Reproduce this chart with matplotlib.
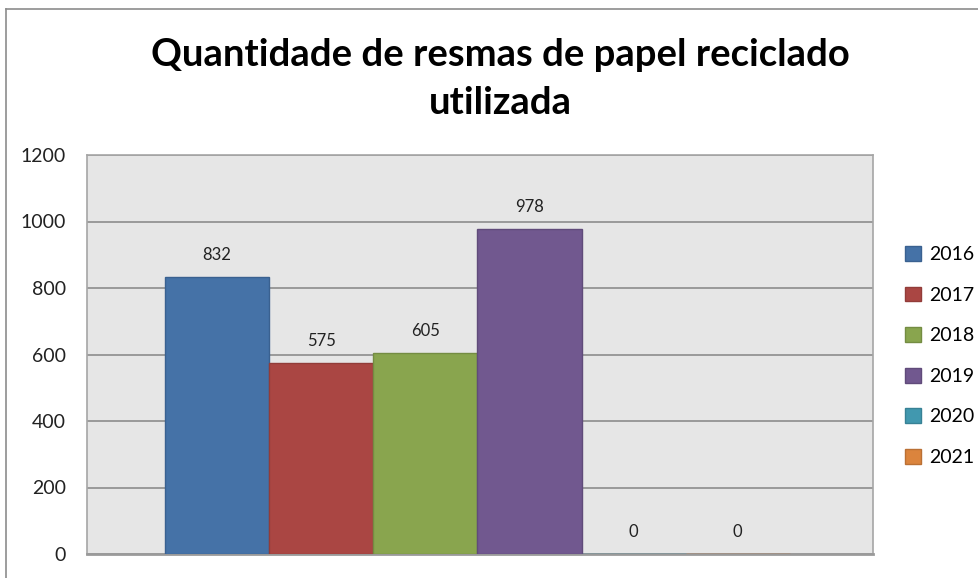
import matplotlib.pyplot as plt
from matplotlib.patches import Patch
from matplotlib.lines import Line2D

# dados
anos = ["2016", "2017", "2018", "2019", "2020", "2021"]
resmas = [832, 575, 605, 978, 0, 0]
cores = ["#4572A7", "#AA4643", "#89A54E", "#71588F", "#4198AF", "#DB843D"]
bordas = ["#3A6190", "#923C39", "#748C42", "#604B7A", "#378195", "#BA7034"]
yticks = [0, 200, 400, 600, 800, 1000, 1200]

plt.rcParams['font.family'] = ['Lato', 'DejaVu Sans']

fig = plt.figure(figsize=(9.79, 5.78), dpi=100)
ax = fig.add_axes([87/979, 24/578, 786/979, 399/578])

xs = list(range(len(anos)))
for i, (v, c, b) in enumerate(zip(resmas, cores, bordas)):
    ax.bar(xs[i], v, width=1.0, color=c, edgecolor=b, linewidth=1, zorder=3)
    ax.annotate(str(v), (xs[i], v), xytext=(0, 10), textcoords="offset points",
                ha="center", va="bottom", fontsize=12, color="#222222")

ax.set_xlim(-1.25, 6.3)
ax.set_ylim(0, 1200)
ax.set_yticks(yticks)
ax.set_xticks([])
ax.set_facecolor("#E6E6E6")
ax.grid(axis="y", color="#8C8C8C", linewidth=1.2, zorder=0)
ax.tick_params(axis="y", length=0, pad=15, labelsize=14, labelcolor="#222222")
for s in ax.spines.values():
    s.set_color("#A6A6A6")
    s.set_linewidth(1.2)
ax.spines["bottom"].set_color("#9A9A9A")
ax.spines["bottom"].set_linewidth(2)

# titulo
fig.text(500/979, 1 - 79/578, "Quantidade de resmas de papel reciclado\nutilizada",
         ha="center", va="center", fontsize=27.5, fontweight="bold", linespacing=1.5)

# legenda
handles = [Patch(facecolor=c, edgecolor=b) for c, b in zip(cores, bordas)]
fig.legend(handles, anos, loc="center left", bbox_to_anchor=(888/979, 1 - 356/578),
           frameon=False, fontsize=14, handlelength=0.8, handleheight=0.8,
           handletextpad=0.4, labelspacing=1.2)

# moldura do grafico
fig.add_artist(Line2D([6/979, 1], [1 - 9/578, 1 - 9/578], color="#8C8C8C", linewidth=1.2))
fig.add_artist(Line2D([6/979, 6/979], [0, 1 - 9/578], color="#8C8C8C", linewidth=1.2))

fig.savefig("out.png", dpi=100)
